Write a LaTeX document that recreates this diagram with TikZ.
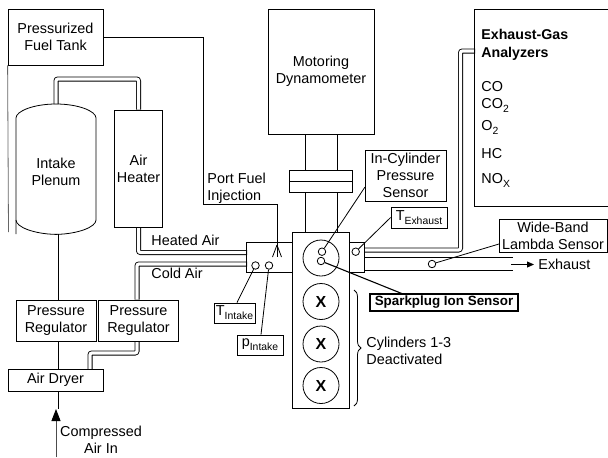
\documentclass[tikz,border=0pt]{standalone}
\usepackage{fontspec}
\setmainfont{Liberation Sans}
\usetikzlibrary{arrows.meta, calc, backgrounds, decorations.pathreplacing}
\newcommand{\lblsize}{\fontsize{14.4}{17}\selectfont}
\newcommand{\lowsub}[1]{\raisebox{-4pt}{\fontsize{10.4}{12}\selectfont #1}}
\begin{document}
\begin{tikzpicture}[
  x=1pt, y=-1pt, line width=0.8pt,
  lbl/.style={align=center, inner sep=0pt, font=\lblsize},
  box/.style={lbl, draw, rectangle, minimum width=#1},
  box/.default=80pt,
  tube/.style={draw=black, line width=0.9pt, double=white, double distance=3.2pt, rounded corners=2pt},
  probe/.style={draw, circle, inner sep=0pt, minimum size=7.5pt},
  bore/.style={draw, circle, inner sep=0pt, minimum size=36pt, font=\fontsize{16}{16}\selectfont\bfseries}
]
  \useasboundingbox (0,0) rectangle (608,458);

  \node[box=95pt, minimum height=56pt] (tank) at (55.5,37) {Pressurized\\Fuel Tank};
  \node[lbl, minimum width=80pt, minimum height=124pt] (plenum) at (56,172) {Intake\\Plenum};
  \node[box=48pt, minimum height=117pt] (heater) at (138.5,168.5) {Air\\Heater};
  \node[box=80pt, minimum height=41pt] (regA) at (56,320.5) {Pressure\\Regulator};
  \node[box=80pt, minimum height=41pt] (regB) at (138.5,320.5) {Pressure\\Regulator};
  \node[box=95pt, minimum height=22pt] (dryer) at (55.5,380) {Air Dryer};
  \node[lbl] (airtext) at (101,439.5) {Compressed\\Air In};
  \node[lbl, anchor=west] (heatedtext) at (151,240) {Heated Air};
  \node[lbl, anchor=west] (coldtext) at (151,273) {Cold Air};
  \node[lbl, anchor=west, align=left] (porttext) at (207,188.5) {Port Fuel\\Injection};

  \node[box=106pt, minimum height=125pt] (dyno) at (321,71.5) {Motoring\\Dynamometer};
  \node[box=62.5pt, minimum height=22pt] (coupling) at (321,181) {};
  \node[box=47pt, minimum height=30pt] (intake) at (270,257) {};
  \node[box=15pt, minimum height=30pt] (outlet) at (357,257) {};
  \node[box=56.5pt, minimum height=176pt, fill=white] (engine) at (321,320) {};
  \node[bore] (boreA) at (321,258) {};
  \node[bore] (boreB) at (321,301.5) {X};
  \node[bore] (boreC) at (321,344) {X};
  \node[bore] (boreD) at (321,385.5) {X};

  \node[probe] (pressprobe) at (322,251.7) {};
  \node[probe] (ionprobe) at (321,261) {};
  \node[probe] (tintprobe) at (255.5,265.5) {};
  \node[probe] (pintprobe) at (269,265.5) {};
  \node[probe] (texhprobe) at (355.7,251.7) {};
  \node[probe] (lambdaprobe) at (432,264) {};

  \node[box=81pt, minimum height=51pt] (incyl) at (405.5,175.5) {In-Cylinder\\Pressure\\Sensor};
  \node[box=56pt, minimum height=21pt] (texh) at (419,217.5) {T\lowsub{Exhaust}};
  \node[box=41pt, minimum height=20pt] (tint) at (234.5,313) {T\lowsub{Intake}};
  \node[box=46pt, minimum height=20pt] (pint) at (260,345) {p\lowsub{Intake}};
  \node[box=148pt, minimum height=17pt, line width=1.3pt, font=\fontsize{13.4}{16}\selectfont\bfseries] (ion) at (444,302.5) {Sparkplug Ion Sensor};
  \node[box=108pt, minimum height=33pt] (lambda) at (553,235.5) {Wide-Band\\Lambda Sensor};
  \node[lbl, anchor=west] (exhtext) at (538,264.5) {Exhaust};
  \node[lbl, anchor=west, align=left] (cyltext) at (366,351) {Cylinders 1-3\\Deactivated};

  \node[box=140pt, minimum height=197pt] (analyzer) at (544.5,107.5) {};
  \node[lbl, anchor=west, align=left, font=\fontsize{14.2}{18}\selectfont\bfseries] (analyzertext) at (481,45) {Exhaust-Gas\\Analyzers};
  \node[lbl, anchor=base west] (co) at (481,91) {CO};
  \node[lbl, anchor=base west] (cotwo) at (481,108) {CO\lowsub{2}};
  \node[lbl, anchor=base west] (otwo) at (481,130) {O\lowsub{2}};
  \node[lbl, anchor=base west] (hc) at (481,158) {HC};
  \node[lbl, anchor=base west] (nox) at (481,183) {NO\lowsub{X}};

  \coordinate (plenumtop) at (56,104);
  \coordinate (plenumloop) at (56,79);
  \coordinate (heatedport) at (247,252.5);
  \coordinate (coldport) at (247,264);
  \coordinate (dryerbend) at (137,353);
  \coordinate (dryerport) at (90,369);
  \coordinate (airtip) at (56,409);
  \coordinate (airstart) at (56,457);
  \coordinate (fuelbend) at (203,204);
  \coordinate (injtip) at (277,245);
  \coordinate (tankdrop) at (8.5,232);
  \coordinate (analyzerbend) at (460.5,250);
  \coordinate (analyzerport) at (475,51);
  \coordinate (pipetop) at (513,257);
  \coordinate (pipebot) at (513,270);
  \coordinate (exhstart) at (511,264.5);
  \coordinate (incylport) at (365,187);
  \coordinate (ionport) at (403,294);
  \coordinate (lambdaport) at (499,244);
  \coordinate (bracetop) at (354,290);
  \coordinate (bracebot) at (354,406);

  \begin{scope}[on background layer]
    \draw[tube] (plenumtop) -- (plenumloop) -| (heater.north);
    \draw[tube] (heater.south) |- (heatedport);
    \draw[tube] ([xshift=-1.5pt]regB.north) |- (coldport);
    \draw[tube] (plenum.south) -- (regA.north);
    \draw[tube] (regA.south) -- (dryer.north-|regA.south);
    \draw[tube] ([xshift=-1.5pt]regB.south) -- (dryerbend) -| (dryerport);
    \draw[tube] (dryer.south-|airtip) -- (airtip);
    \draw[tube] (outlet.east|-analyzerbend) -- (analyzerbend) |- (analyzerport);
  \end{scope}

  \draw (16,234) -- (16,118) .. controls (16,111) and (34,104) .. (plenumtop)
    .. controls (78,104) and (96,111) .. (96,118) -- (96,220);
  \draw (16,220) .. controls (16,227) and (34,234) .. (plenum.south)
    .. controls (78,234) and (96,227) .. (96,220);
  \draw[black!60] (tank.south west) -- (tankdrop);
  \draw[line width=1pt, black!70, -{Triangle[length=12pt, width=9pt, black]}] (airstart) -- (airtip);

  \draw (tank.east) -| (fuelbend) -| (injtip);
  \draw (injtip) -- ++(-4.5,12);
  \draw (injtip) -- ++(0,12);
  \draw (injtip) -- ++(4.5,12);

  \draw (dyno.south-|305.5,0) -- (coupling.north-|305.5,0);
  \draw (dyno.south-|337,0) -- (coupling.north-|337,0);
  \draw (coupling.west) -- (coupling.east);
  \draw (coupling.south-|305.5,0) -- (engine.north-|305.5,0);
  \draw (coupling.south-|337,0) -- (engine.north-|337,0);

  \draw (outlet.east|-pipetop) -- (pipetop);
  \draw (outlet.east|-pipebot) -- (pipebot);
  \draw[-{Triangle[length=7pt, width=6pt]}, shorten >=4pt] (exhstart) -- (exhtext.west);

  \draw (incylport) -- (pressprobe);
  \draw (texh.west) -- (texhprobe);
  \draw[line width=1.1pt] (ionprobe) -- (ionport);
  \draw (tint.north-|237,0) -- (tintprobe);
  \draw (pint.north-|261,0) -- (pintprobe);
  \draw (lambdaport) -- (lambdaprobe);
  \draw[decorate, decoration={brace, amplitude=7pt}] (bracetop) -- (bracebot);
\end{tikzpicture}
\end{document}
